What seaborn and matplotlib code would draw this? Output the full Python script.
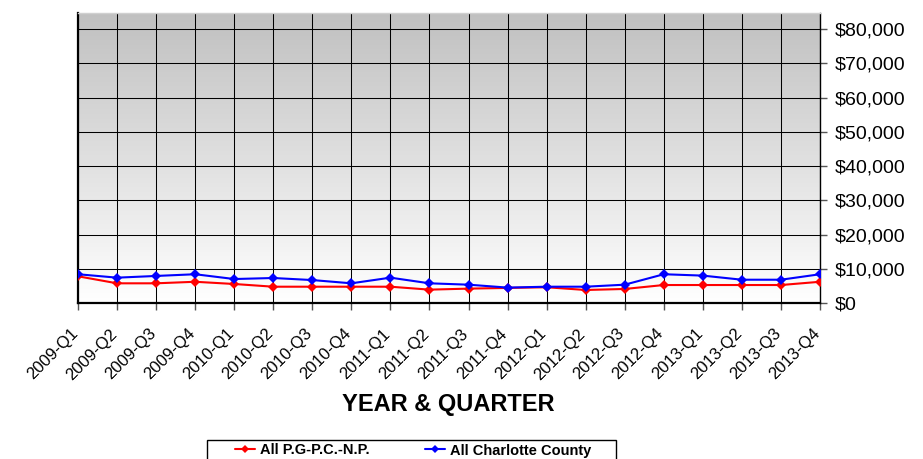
import numpy as np
import pandas as pd
import matplotlib
matplotlib.use("Agg")
import matplotlib.pyplot as plt
from matplotlib.patches import Rectangle
import matplotlib.transforms as mtransforms
import seaborn as sns

quarters = ["2009-Q1", "2009-Q2", "2009-Q3", "2009-Q4",
            "2010-Q1", "2010-Q2", "2010-Q3", "2010-Q4",
            "2011-Q1", "2011-Q2", "2011-Q3", "2011-Q4",
            "2012-Q1", "2012-Q2", "2012-Q3", "2012-Q4",
            "2013-Q1", "2013-Q2", "2013-Q3", "2013-Q4"]
pgpcnp = [7800, 5750, 5750, 6200, 5550, 4760, 4760, 4760, 4760, 3900,
          4200, 4400, 4600, 3800, 4100, 5250, 5250, 5250, 5250, 6200]
charlotte = [8400, 7400, 7900, 8400, 7000, 7300, 6700, 5750, 7400, 5750,
             5350, 4500, 4760, 4760, 5350, 8400, 8000, 6800, 6800, 8400]
series_names = ["All P.G-P.C.-N.P.", "All Charlotte County"]
yticks = [0, 10000, 20000, 30000, 40000, 50000, 60000, 70000, 80000]

sns.set_style("white")
plt.rcParams['font.family'] = ['Liberation Sans', 'DejaVu Sans']
plt.rcParams['text.color'] = 'black'
plt.rcParams['xtick.color'] = 'black'
plt.rcParams['ytick.color'] = 'black'
plt.rcParams['axes.labelcolor'] = 'black'

df = pd.DataFrame({
    "x": list(range(len(quarters))) * 2,
    "value": pgpcnp + charlotte,
    "series": [series_names[0]] * len(quarters) + [series_names[1]] * len(quarters),
})

W, H = 923, 459
fig = plt.figure(figsize=(W / 100, H / 100), dpi=100)
ax = fig.add_axes([78 / W, 1 - 303 / H, (820 - 78) / W, (303 - 13) / H])

# gradient background
grad = np.linspace(0, 1, 256).reshape(-1, 1)
cmap = matplotlib.colors.LinearSegmentedColormap.from_list("g", ["#ffffff", "#c0c0c0"])
ax.imshow(grad, aspect="auto", cmap=cmap, extent=[0, 1, 0, 1], origin="lower",
          transform=ax.transAxes, zorder=0)

sns.lineplot(data=df, x="x", y="value", hue="series", palette=["#ff0000", "#0000ff"],
             marker="D", markersize=5, markeredgewidth=0, linewidth=1.5, ax=ax,
             legend=True, zorder=3)

ax.set_xlim(0, len(quarters) - 1)
ax.set_ylim(0, 84700)
ax.set_xticks(range(len(quarters)))
ax.set_xticklabels([])
# rotated category labels placed just below each tick
lbl_tr = ax.get_xaxis_transform() + mtransforms.ScaledTranslation(-8 / 100, -23 / 100,
                                                                   fig.dpi_scale_trans)
for i, q in enumerate(quarters):
    ax.text(i, 0, q, transform=lbl_tr, rotation=45, ha="right", va="top",
            rotation_mode="anchor", fontsize=12, clip_on=False)
ax.set_yticks(yticks)
ax.set_yticklabels([f"${v:,.0f}" for v in yticks], fontsize=14)
ax.yaxis.tick_right()
ax.tick_params(axis="y", length=5, width=1, color="#555555", direction="out", pad=5.5,
               right=True, left=False)
ax.tick_params(axis="x", length=5, width=1, color="#555555", direction="out",
               bottom=True)
ax.grid(True, color="black", linewidth=0.75, zorder=1)
ax.set_axisbelow(True)
for s in ["bottom", "left"]:
    ax.spines[s].set_visible(True)
    ax.spines[s].set_color("black")
    ax.spines[s].set_linewidth(1.6)
ax.spines["right"].set_visible(True)
ax.spines["right"].set_color("black")
ax.spines["right"].set_linewidth(1.0)
ax.spines["top"].set_visible(True)
ax.spines["top"].set_color("#d0d0d0")
ax.spines["top"].set_linewidth(1.0)
ax.set_xlabel("")
ax.set_ylabel("")

fig.text(448 / W, 1 - 405 / H, "YEAR & QUARTER", fontsize=17, fontweight="bold",
         ha="center", va="center")

handles, labels = ax.get_legend_handles_labels()
ax.get_legend().remove()
for h in handles:
    h.set_markersize(4)
leg = fig.legend(handles, labels, loc="center left",
                 bbox_to_anchor=(235 / W, 1 - 450.5 / H),
                 ncol=2, frameon=False, prop={"weight": "bold", "size": 10.5},
                 handlelength=1.4, columnspacing=3.8, borderpad=0,
                 handletextpad=0.3, borderaxespad=0)
fig.patches.append(Rectangle((207 / W, -0.05), (616 - 207) / W, 0.05 + (459 - 439.5) / H,
                             transform=fig.transFigure, fill=False,
                             edgecolor="black", linewidth=1.0))

fig.savefig("out.png", dpi=100)
